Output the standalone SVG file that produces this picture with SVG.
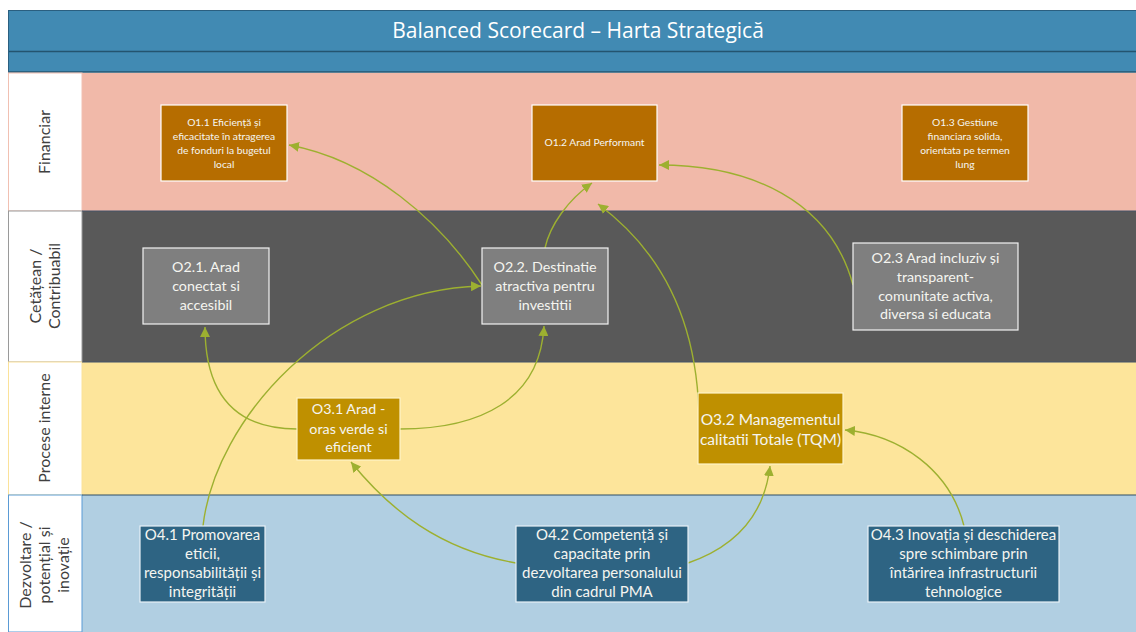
<svg xmlns="http://www.w3.org/2000/svg" width="1136" height="632" viewBox="0 0 1136 632">
  <style>
    .lane-label { font-family: Lato, "Open Sans", sans-serif; font-size: 16px; fill: #404040; }
    .node-text { font-family: Lato, "Open Sans", sans-serif; fill: #F5F5F0; text-anchor: middle; }
    .fin rect { fill: #B66D00; stroke: #FFFFFF; stroke-width: 1.2; }
    .cit rect { fill: #7F7F7F; stroke: #F2F2F2; stroke-width: 1.2; }
    .proc rect { fill: #BF9000; stroke: #FFF3C8; stroke-width: 1.2; }
    .dev rect { fill: #2E6483; stroke: #E8F1F7; stroke-width: 1.2; }
    .fin text { font-size: 10.3px; }
    .cit text, .proc text { font-size: 14.3px; }
    .dev text { font-size: 15px; }
    .link { fill: none; stroke: #9DB030; stroke-width: 1.4; marker-end: url(#arrow); }
  </style>
  <defs>
    <marker id="arrow" markerUnits="userSpaceOnUse" markerWidth="12" markerHeight="10" refX="10" refY="5" orient="auto">
      <path d="M0,0 L10,5 L0,10 Z" fill="#9DB030"/>
    </marker>
  </defs>

  <rect width="1136" height="632" fill="#FFFFFF"/>

  <!-- header -->
  <g id="header">
    <rect x="8" y="10" width="1128" height="62" fill="#418AB3"/>
    <line x1="8" y1="10.5" x2="1136" y2="10.5" stroke="#2A5F80" stroke-width="1"/>
    <line x1="8" y1="51.5" x2="1136" y2="51.5" stroke="#24546F" stroke-width="1.5"/>
    <line x1="8" y1="72" x2="1136" y2="72" stroke="#24546F" stroke-width="1.5"/>
    <line x1="8.5" y1="10" x2="8.5" y2="72" stroke="#2A5F80" stroke-width="1"/>
    <text x="578" y="37.5" text-anchor="middle" font-family="'Open Sans', sans-serif" font-size="21" fill="#FFFFFF">Balanced Scorecard – Harta Strategică</text>
  </g>

  <!-- lanes -->
  <g id="lanes">
    <rect x="82" y="73" width="1054" height="138" fill="#F1B9A9"/>
    <rect x="8.5" y="73" width="73.5" height="138" fill="#FFFFFF" stroke="#F1C0B2" stroke-width="1"/>
    <rect x="82" y="211" width="1054" height="151" fill="#595959"/>
    <rect x="8.5" y="211" width="73.5" height="151" fill="#FFFFFF" stroke="#9A9A9A" stroke-width="1"/>
    <rect x="82" y="362" width="1054" height="133" fill="#FDE59B"/>
    <rect x="8.5" y="362" width="73.5" height="133" fill="#FFFFFF" stroke="#FBE29A" stroke-width="1"/>
    <rect x="82" y="495" width="1054" height="137" fill="#B1CFE2"/>
    <rect x="8.5" y="495" width="73.5" height="137" fill="#FFFFFF" stroke="#5B9BD5" stroke-width="1"/>
    <line x1="82" y1="211" x2="1136" y2="211" stroke="#44546A" stroke-width="1.2"/>
    <line x1="82" y1="362" x2="1136" y2="362" stroke="#44546A" stroke-width="1.2"/>
    <line x1="82" y1="495" x2="1136" y2="495" stroke="#2F4F66" stroke-width="1.2"/>

    <text class="lane-label" text-anchor="middle" transform="translate(50,142) rotate(-90)">Financiar</text>
    <text class="lane-label" text-anchor="middle" transform="translate(41,286) rotate(-90)">Cetățean /</text>
    <text class="lane-label" text-anchor="middle" transform="translate(60,286) rotate(-90)">Contribuabil</text>
    <text class="lane-label" text-anchor="middle" transform="translate(50,428) rotate(-90)">Procese interne</text>
    <text class="lane-label" text-anchor="middle" transform="translate(31,565) rotate(-90)">Dezvoltare /</text>
    <text class="lane-label" text-anchor="middle" transform="translate(50,565) rotate(-90)">potențial și</text>
    <text class="lane-label" text-anchor="middle" transform="translate(69,565) rotate(-90)">inovație</text>
  </g>

  <!-- connectors -->
  <g id="connectors">
    <path class="link" d="M482,285 C440,220 370,160 289,145"/>
    <path class="link" d="M297,429 C240,429 205,400 205,327"/>
    <path class="link" d="M400,429 C480,429 540,400 544,326"/>
    <path class="link" d="M203,526 C215,420 330,290 481,286"/>
    <path class="link" d="M545,248 C550,225 568,200 592,183"/>
    <path class="link" d="M699,428 C700,320 660,250 598,204"/>
    <path class="link" d="M853,285 C830,200 750,165 659,165"/>
    <path class="link" d="M516,563 C440,550 390,510 351,462"/>
    <path class="link" d="M688,563 C740,545 765,510 770,466"/>
    <path class="link" d="M964,526 C950,470 900,435 845,430"/>
  </g>

  <!-- financial objectives -->
  <g id="o1-1" class="fin">
    <rect x="161" y="105" width="126" height="76"/>
    <text class="node-text"><tspan x="224" y="126">O1.1 Eficiență și</tspan><tspan x="224" y="139.5">eficacitate  în atragerea</tspan><tspan x="224" y="153.5">de fonduri la bugetul</tspan><tspan x="224" y="167.5">local</tspan></text>
  </g>
  <g id="o1-2" class="fin">
    <rect x="532" y="105" width="125" height="76"/>
    <text class="node-text"><tspan x="594.5" y="145.5">O1.2 Arad Performant</tspan></text>
  </g>
  <g id="o1-3" class="fin">
    <rect x="902" y="105" width="126" height="76"/>
    <text class="node-text"><tspan x="965" y="126">O1.3 Gestiune</tspan><tspan x="965" y="139.5">financiara solida,</tspan><tspan x="965" y="153.5">orientata pe termen</tspan><tspan x="965" y="167.5">lung</tspan></text>
  </g>

  <!-- citizen objectives -->
  <g id="o2-1" class="cit">
    <rect x="143" y="248" width="126" height="76"/>
    <text class="node-text"><tspan x="206" y="271.5">O2.1. Arad</tspan><tspan x="206" y="290.5">conectat si</tspan><tspan x="206" y="309.5">accesibil</tspan></text>
  </g>
  <g id="o2-2" class="cit">
    <rect x="482" y="248" width="126" height="76"/>
    <text class="node-text"><tspan x="545" y="271.5">O2.2. Destinatie</tspan><tspan x="545" y="290.5">atractiva pentru</tspan><tspan x="545" y="309.5">investitii</tspan></text>
  </g>
  <g id="o2-3" class="cit">
    <rect x="853" y="243" width="165" height="87"/>
    <text class="node-text"><tspan x="935.5" y="263">O2.3 Arad incluziv și</tspan><tspan x="935.5" y="281.5">transparent-</tspan><tspan x="935.5" y="300.5">comunitate activa,</tspan><tspan x="935.5" y="319">diversa si educata</tspan></text>
  </g>

  <!-- internal process objectives -->
  <g id="o3-1" class="proc">
    <rect x="297" y="398" width="103" height="62"/>
    <text class="node-text"><tspan x="348.5" y="413.5">O3.1 Arad  -</tspan><tspan x="348.5" y="433.5">oras verde si</tspan><tspan x="348.5" y="451.5">eficient</tspan></text>
  </g>
  <g id="o3-2" class="proc">
    <rect x="698" y="393" width="145" height="71"/>
    <text class="node-text" style="font-size:15.5px"><tspan x="770.5" y="424.5">O3.2 Managementul</tspan><tspan x="770.5" y="444.5">calitatii Totale (TQM)</tspan></text>
  </g>

  <!-- development objectives -->
  <g id="o4-1" class="dev">
    <rect x="140" y="526" width="125" height="76"/>
    <text class="node-text"><tspan x="202.5" y="540">O4.1 Promovarea</tspan><tspan x="202.5" y="559">eticii,</tspan><tspan x="202.5" y="578">responsabilității și</tspan><tspan x="202.5" y="596.5">integrității</tspan></text>
  </g>
  <g id="o4-2" class="dev">
    <rect x="516" y="526" width="172" height="76"/>
    <text class="node-text"><tspan x="602" y="540">O4.2 Competență și</tspan><tspan x="602" y="559">capacitate prin</tspan><tspan x="602" y="578">dezvoltarea personalului</tspan><tspan x="602" y="596.5">din cadrul PMA</tspan></text>
  </g>
  <g id="o4-3" class="dev">
    <rect x="868" y="526" width="191" height="76"/>
    <text class="node-text"><tspan x="963.5" y="540">O4.3 Inovația și deschiderea</tspan><tspan x="963.5" y="559">spre schimbare prin</tspan><tspan x="963.5" y="578">întărirea infrastructurii</tspan><tspan x="963.5" y="596.5">tehnologice</tspan></text>
  </g>
</svg>
